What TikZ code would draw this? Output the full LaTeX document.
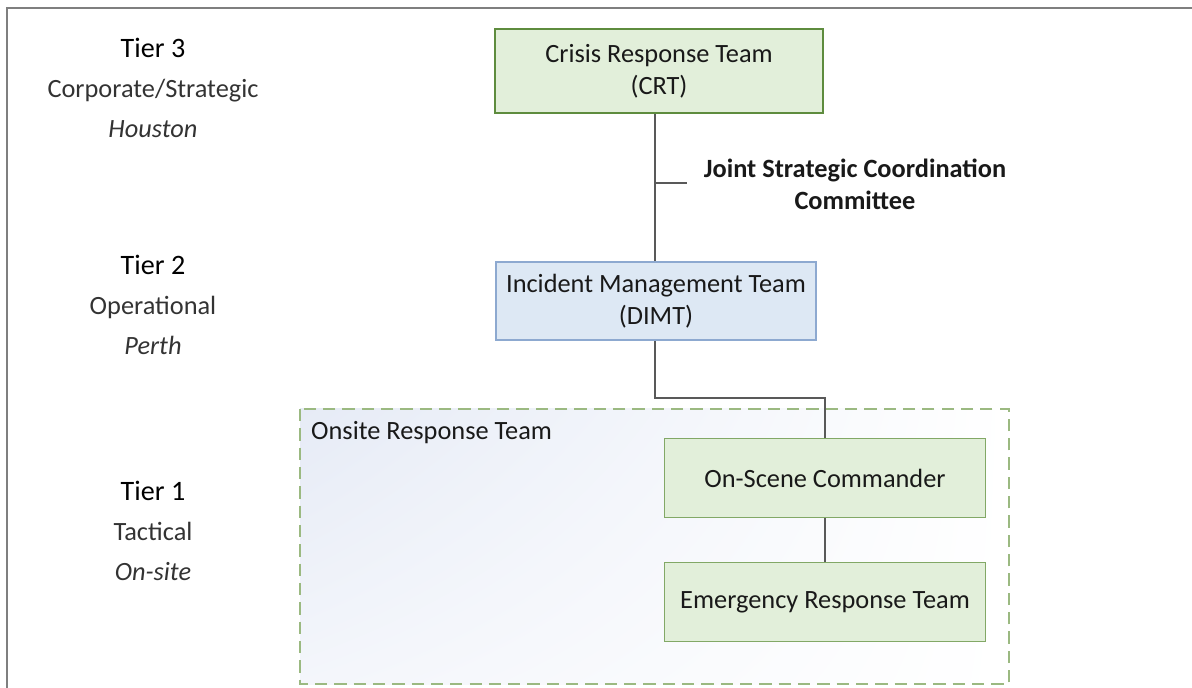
\documentclass[tikz,border=0pt]{standalone}
\usepackage{fontspec}
\setmainfont{Carlito}
\usetikzlibrary{calc,shadings}

\definecolor{frameGray}{HTML}{7F7F7F}
\definecolor{linkGray}{HTML}{595959}
\definecolor{teamFill}{HTML}{E2EFDA}
\definecolor{teamEdge}{HTML}{82A866}
\definecolor{crtEdge}{HTML}{5E8C3E}
\definecolor{imtFill}{HTML}{DDE8F4}
\definecolor{imtEdge}{HTML}{8DA9D0}
\definecolor{zoneEdge}{HTML}{9BB981}
\definecolor{zoneTint}{HTML}{E6EBF6}

\tikzset{
  boxtext/.style={font=\fontsize{15}{18.2}\selectfont, align=center, text=black!90},
  team/.style={boxtext, draw=teamEdge, line width=1pt, fill=teamFill, minimum width=6.42cm, minimum height=1.58cm},
  tier/.style={font=\fontsize{15}{22.8}\selectfont, align=center, text=black!80},
  link/.style={draw=linkGray, line width=1.1pt}
}

\begin{document}
\begin{tikzpicture}[x=0.02cm, y=-0.02cm]
\useasboundingbox (0,0) rectangle (1192,688);
% Frame
\draw[frameGray, line width=1.3pt] (7,688) -- (7,8) -- (1192,8);

% Onsite zone
\shade[upper left=zoneTint, upper right=white, lower left=white!55!zoneTint, lower right=white]
    (300,409) rectangle (1009,684);
\draw[zoneEdge, line width=1.1pt, dash pattern=on 7pt off 4pt] (300,409) rectangle (1009,684);
\node[boxtext, anchor=west] (zone) at (305,433) {Onsite Response Team};

% Tier labels
\node[tier] (tierthree) at (153,88) {{\fontsize{16}{22.8}\selectfont\color{black}Tier 3}\\Corporate/Strategic\\\textit{Houston}};
\node[tier] (tiertwo) at (153,305) {{\fontsize{16}{22.8}\selectfont\color{black}Tier 2}\\Operational\\\textit{Perth}};
\node[tier] (tierone) at (153,531) {{\fontsize{16}{22.8}\selectfont\color{black}Tier 1}\\Tactical\\\textit{On-site}};

% Teams
\node[team, draw=crtEdge, line width=1.3pt, minimum width=6.56cm, minimum height=1.68cm] (crt) at (659,71) {Crisis Response Team\\(CRT)};
\node[team, draw=imtEdge, fill=imtFill, minimum width=6.4cm, minimum height=1.56cm] (dimt) at (656,301) {Incident Management Team\\(DIMT)};
\node[team] (osc) at (825,478) {On-Scene Commander};
\node[team] (ert) at (825,602) {Emergency Response Team};
\node[boxtext, font=\fontsize{15}{18.2}\selectfont\bfseries, inner sep=6pt] (jscc) at (855,184) {Joint Strategic Coordination\\Committee};

% Links
\coordinate (tee) at (655,183);
\coordinate (elbow) at (740,398);
\draw[link] (crt.south -| tee) -- (dimt.north -| tee);
\draw[link] (tee) -- ($(tee -| jscc.west)+(-6,0)$);
\draw[link] (dimt.south -| tee) |- (elbow) -| (osc.north);
\draw[link] (osc) -- (ert);
\end{tikzpicture}
\end{document}
